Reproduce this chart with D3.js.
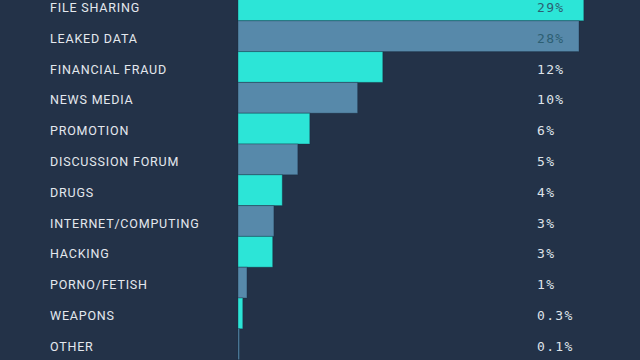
<!DOCTYPE html>
<html>
<head>
<meta charset="utf-8">
<script src="https://cdn.jsdelivr.net/npm/d3@7"></script>
<style>
  html, body { margin: 0; padding: 0; background: #233248; }
  svg { display: block; }
</style>
</head>
<body>
<svg id="chart" width="640" height="360"></svg>
<script>
const categories = ["FILE SHARING", "LEAKED DATA", "FINANCIAL FRAUD", "NEWS MEDIA", "PROMOTION",
  "DISCUSSION FORUM", "DRUGS", "INTERNET/COMPUTING", "HACKING", "PORNO/FETISH", "WEAPONS", "OTHER"];
const values = [28.9, 28.5, 12.1, 10.0, 6.0, 5.0, 3.7, 3.0, 2.9, 0.75, 0.4, 0.12];
const valueLabels = ["29%", "28%", "12%", "10%", "6%", "5%", "4%", "3%", "3%", "1%", "0.3%", "0.1%"];

const W = 640, H = 360;
const svg = d3.select("#chart");
svg.append("rect").attr("width", W).attr("height", H).attr("fill", "#233248");

const x = d3.scaleLinear().domain([0, 29]).range([238, 585]);
const y = d3.scaleBand().domain(categories).range([-10, 359.6]).padding(0);

const colors = ["#2ce5d7", "#5789aa"];
const data = categories.map((c, i) => ({ c, v: values[i], l: valueLabels[i], i }));

svg.append("g").selectAll("rect").data(data).enter().append("rect")
  .attr("x", x(0))
  .attr("y", d => y(d.c))
  .attr("width", d => Math.max(1.2, x(d.v) - x(0)))
  .attr("height", y.bandwidth())
  .attr("fill", d => colors[d.i % 2])
  .attr("stroke", "rgba(20,40,60,0.35)")
  .attr("stroke-width", 1);

svg.append("g").selectAll("text").data(data).enter().append("text")
  .attr("x", 50)
  .attr("y", d => y(d.c) + y.bandwidth() / 2 + 6.5)
  .attr("fill", "#e4e8ee")
  .attr("font-family", "Roboto, 'Noto Sans', sans-serif")
  .attr("font-size", 12.5)
  .attr("letter-spacing", "0.8px")
  .text(d => d.c);

svg.append("g").selectAll("text").data(data).enter().append("text")
  .attr("x", 537)
  .attr("y", d => y(d.c) + y.bandwidth() / 2 + 6.5)
  .attr("fill", d => x(d.v) > 537 ? "#2d5f73" : "#dfe3e9")
  .attr("font-family", "'DejaVu Sans Mono', 'Liberation Mono', monospace")
  .attr("font-size", 13)
  .attr("letter-spacing", "1.3px")
  .text(d => d.l);
</script>
</body>
</html>
